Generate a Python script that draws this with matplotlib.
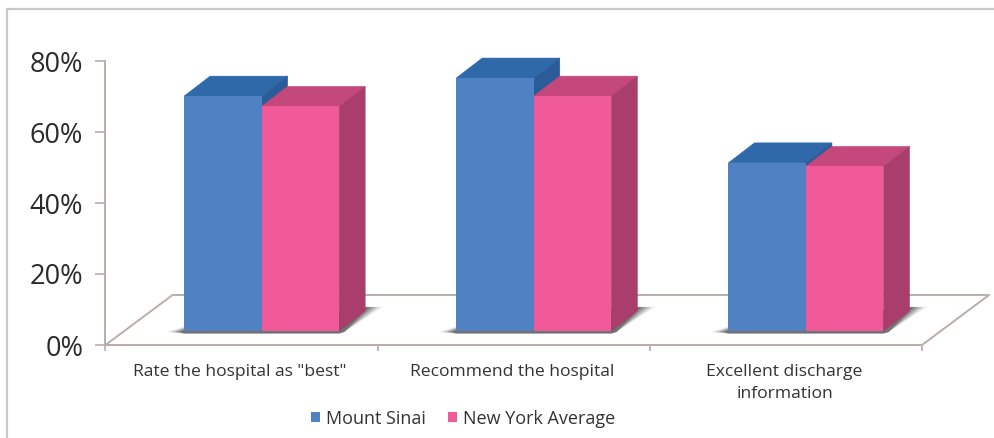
"""Hospital survey scores, drawn as oblique 3D-look clustered bars."""
import matplotlib

matplotlib.use("Agg")
import matplotlib.pyplot as plt
from matplotlib.patches import Polygon, Rectangle

categories = ['Rate the hospital as "best"', "Recommend the hospital", "Excellent discharge\ninformation"]
mount_sinai = [70.1, 75.2, 51.3]
ny_average = [67.2, 70.1, 50.3]
y_ticks = [0, 20, 40, 60, 80]
y_labels = ["0%", "20%", "40%", "60%", "80%"]

W, H = 995, 438
DX, DY = 26 / 272, 20 / 3.55  # bar depth in data units
BASE = 3.95  # bars stand on the floor, a little above the axis line
BAR_W = 77.5 / 272
LINE = "#b9aeab"

plt.rcParams["font.family"] = ["Open Sans", "DejaVu Sans"]

fig = plt.figure(figsize=(W / 100, H / 100), dpi=100)
fig.add_artist(Rectangle((7.5 / W, -0.05), 1.1, (H - 9) / H + 0.05, transform=fig.transFigure,
                         fill=False, ec="#c9c9c9", lw=1.6))
ax = fig.add_axes([105.5 / W, 1 - 345 / H, 816.5 / W, 284 / H])
ax.set_xlim(0, 3)
ax.set_ylim(0, 80)
ax.patch.set_alpha(0)
for side in ("top", "right"):
    ax.spines[side].set_visible(False)
for side in ("left", "bottom"):
    ax.spines[side].set_color(LINE)
    ax.spines[side].set_linewidth(1.4)


def poly(pts, color, z, **kw):
    kw.setdefault("ec", "none")
    ax.add_patch(Polygon(pts, closed=True, fc=color, zorder=z, clip_on=False, **kw))


# floor
fx, fy = 67 / 272, 50 / 3.55
ax.plot([0, fx, 3 + fx, 3, 0], [0, fy, fy, 0, 0], color=LINE, lw=1.4, clip_on=False, zorder=1)


def bar3d(x, value, front, top, side, z):
    ax.bar(x, value - BASE, BAR_W, bottom=BASE, align="edge", color=front, zorder=z + 0.2)
    r = x + BAR_W
    poly([(x, value), (r, value), (r + DX, value + DY), (x + DX, value + DY)], top, z, ec=top, lw=0.4)
    poly([(r, BASE), (r + DX, BASE + DY), (r + DX, value + DY), (r, value)], side, z, ec=side, lw=0.4)


for i in range(len(categories)):
    left = i + 78.5 / 272
    right_edge = left + 2 * BAR_W
    # soft shadow on the floor, widest layer first
    for k, alpha in zip((1.0, 0.75, 0.5, 0.25), (0.15, 0.25, 0.35, 0.45)):
        poly([(left - 17 / 272 * k, BASE - 0.3),
              (left, BASE + 1.2 * k),
              (right_edge + DX, BASE + DY * 1.2),
              (right_edge + DX + 17 / 272 * k, BASE + DY * 1.2),
              (right_edge + 5 / 272, BASE - 0.3),
              (right_edge, BASE - 0.7),
              (left, BASE - 0.7)],
             "#4a4a4a", 2, alpha=alpha)
    bar3d(left, mount_sinai[i], "#4f81c3", "#2f69aa", "#2a5c9a", 3 + i)
    bar3d(left + BAR_W, ny_average[i], "#f05a98", "#c4487c", "#a93d6b", 3.5 + i)

ax.set_yticks(y_ticks, y_labels, fontsize=19.5, color="#2b2b2b")
ax.set_xticks([0, 1, 2, 3], ["", "", "", ""])
ax.tick_params(axis="y", color=LINE, length=7, width=1.2, pad=9)
ax.tick_params(axis="x", color=LINE, length=4, width=1.2)
for i, name in enumerate(categories):
    ax.text(i + 0.495, -18.5 / 3.55, name, ha="center", va="top", fontsize=12.6,
            color="#333333", linespacing=1.5, clip_on=False)

handles = [Rectangle((0, 0), 1, 1, fc="#4f81c3"), Rectangle((0, 0), 1, 1, fc="#f05a98")]
fig.legend(handles, ["Mount Sinai", "New York Average"], ncol=2, frameon=False, fontsize=13,
           labelcolor="#333333", handlelength=0.5, handleheight=0.5, handletextpad=0.35,
           columnspacing=1.2, loc="center", bbox_to_anchor=(463 / W, 1 - 418.5 / H))

fig.savefig("out.png", dpi=100)
